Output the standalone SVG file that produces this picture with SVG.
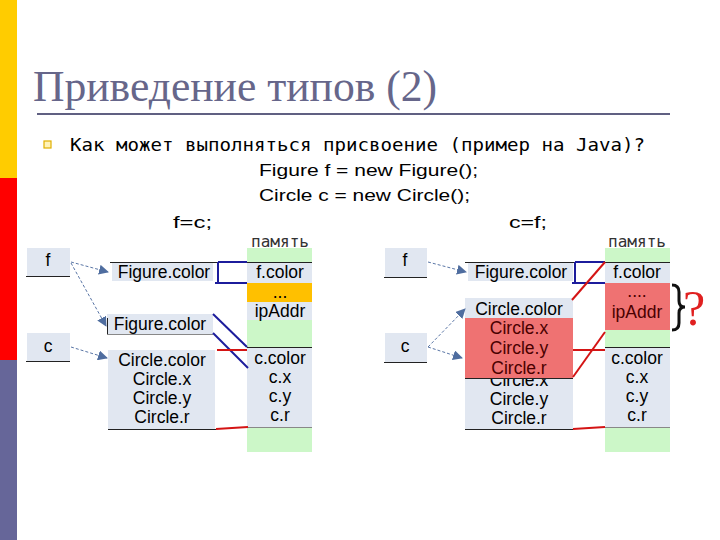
<svg xmlns="http://www.w3.org/2000/svg" width="720" height="540" viewBox="0 0 720 540">
<defs>
<style>
.lbl{font-family:"Liberation Sans",Arial,sans-serif;font-size:17.5px;fill:#000;text-anchor:middle}
.rlbl{font-family:"Liberation Sans",Arial,sans-serif;font-size:17.5px;fill:#4a0000;text-anchor:middle}
.mem{font-family:"DejaVu Sans Mono","Liberation Mono",monospace;font-size:15px;fill:#333;text-anchor:middle}
.cell{fill:#e1e7f1}
.green{fill:#ccf7c8}
.ln{stroke:#222;stroke-width:1}
.gl{stroke:#888;stroke-width:1}
.blue{stroke:#1c1c9c;stroke-width:2;fill:none}
.red{stroke:#d41414;stroke-width:2;fill:none}
.arr{stroke:#5a76a6;stroke-width:1;stroke-dasharray:3 2;fill:none;marker-end:url(#ah)}
.code{font-family:"Liberation Sans",Arial,sans-serif;font-size:17px;fill:#000}
</style>
<marker id="ah" viewBox="0 0 10 10" refX="9" refY="5" markerWidth="10" markerHeight="10" markerUnits="userSpaceOnUse" orient="auto">
<path d="M0,0 L10,5 L0,10 z" fill="#4f6d9f"/>
</marker>
</defs>
<rect width="720" height="540" fill="#fff"/>
<g id="sidebar">
<rect x="0" y="0" width="17" height="178" fill="#ffcc00"/>
<rect x="0" y="178" width="17" height="182" fill="#ff0000"/>
<rect x="0" y="360" width="17" height="180" fill="#666699"/>
</g>
<g id="title">
<text x="33" y="101" font-family="Liberation Serif,Times New Roman,serif" font-size="44" fill="#66668a" textLength="404" lengthAdjust="spacingAndGlyphs">Приведение типов (2)</text>
<line x1="37" y1="114" x2="670" y2="114" stroke="#606082" stroke-width="2"/>
</g>
<g id="question">
<rect x="44" y="141" width="7" height="7" fill="#fff3b8" stroke="#e0b000" stroke-width="1.2"/>
<text x="70" y="151" font-family="DejaVu Sans Mono,Liberation Mono,monospace" font-size="17" fill="#000" textLength="575" lengthAdjust="spacingAndGlyphs">Как может выполняться присвоение (пример на Java)?</text>
</g>
<g id="code">
<text class="code" x="259" y="176" textLength="219" lengthAdjust="spacingAndGlyphs">Figure f = new Figure();</text>
<text class="code" x="259" y="201" textLength="211" lengthAdjust="spacingAndGlyphs">Circle c = new Circle();</text>
<text class="code" x="173" y="228" textLength="39" lengthAdjust="spacingAndGlyphs">f=c;</text>
<text class="code" x="509" y="228" textLength="38" lengthAdjust="spacingAndGlyphs">c=f;</text>
</g>

<!-- LEFT DIAGRAM -->
<g id="L-mem">
<rect class="green" x="247" y="248" width="65" height="204"/>
<text class="mem" x="280" y="247" textLength="58" lengthAdjust="spacingAndGlyphs">память</text>
<rect class="cell" x="247" y="263" width="65" height="20"/>
<text class="lbl" x="280" y="278">f.color</text>
<rect x="247" y="283" width="65" height="19" fill="#ffc000"/>
<text class="lbl" x="280" y="298" font-size="11">...</text>
<rect class="cell" x="247" y="302" width="65" height="18"/>
<text class="lbl" x="280" y="317">ipAddr</text>
<line class="ln" x1="247" y1="347.5" x2="312" y2="347.5"/>
<rect class="cell" x="247" y="348" width="65" height="79"/>
<text class="lbl" x="280" y="364">c.color</text>
<text class="lbl" x="280" y="383">c.x</text>
<text class="lbl" x="280" y="402">c.y</text>
<text class="lbl" x="280" y="421">c.r</text>
<line class="gl" x1="247" y1="427.5" x2="312" y2="427.5"/>
</g>
<g id="L-f">
<rect class="cell" x="27" y="248" width="43" height="28"/>
<line class="ln" x1="26" y1="276.5" x2="70" y2="276.5"/>
<text class="lbl" x="48" y="266">f</text>
</g>
<g id="L-c">
<rect class="cell" x="27" y="333" width="43" height="28"/>
<line class="ln" x1="26" y1="361.5" x2="70" y2="361.5"/>
<text class="lbl" x="48" y="352">c</text>
</g>
<g id="L-fig1">
<rect class="cell" x="112" y="263" width="101" height="18"/>
<line class="ln" x1="110" y1="262.5" x2="312" y2="262.5"/>
<text class="lbl" x="164" y="278">Figure.color</text>
</g>
<g id="L-fig2">
<rect class="cell" x="107" y="314" width="106" height="20"/>
<line class="gl" x1="107" y1="334.5" x2="213" y2="334.5"/>
<line class="ln" x1="107.5" y1="318" x2="107.5" y2="334"/>
<text class="lbl" x="160" y="330">Figure.color</text>
</g>
<g id="L-circle">
<rect class="cell" x="108" y="350" width="107" height="79"/>
<text class="lbl" x="162" y="366">Circle.color</text>
<text class="lbl" x="162" y="385">Circle.x</text>
<text class="lbl" x="162" y="404">Circle.y</text>
<text class="lbl" x="162" y="423">Circle.r</text>
<line class="ln" x1="108" y1="429.5" x2="216" y2="429.5"/>
</g>

<!-- RIGHT DIAGRAM -->
<g id="R-mem">
<rect class="green" x="605" y="248" width="65" height="204"/>
<text class="mem" x="637" y="247" textLength="58" lengthAdjust="spacingAndGlyphs">память</text>
<rect class="cell" x="605" y="263" width="65" height="20"/>
<text class="lbl" x="637" y="278">f.color</text>
<rect x="605" y="283" width="65" height="47" fill="#ef7272"/>
<text class="rlbl" x="637" y="297" font-size="10">....</text>
<text class="rlbl" x="637" y="318">ipAddr</text>
<line class="ln" x1="605" y1="347.5" x2="670" y2="347.5"/>
<rect class="cell" x="605" y="348" width="65" height="79"/>
<text class="lbl" x="637" y="364">c.color</text>
<text class="lbl" x="637" y="383">c.x</text>
<text class="lbl" x="637" y="402">c.y</text>
<text class="lbl" x="637" y="421">c.r</text>
<line class="gl" x1="605" y1="427.5" x2="670" y2="427.5"/>
<path d="M672,285 Q679,285 679,292 L679,301 Q679,307 685,307 Q679,307 679,313 L679,323 Q679,330 672,330" fill="none" stroke="#111" stroke-width="3"/>
<text x="683" y="325" font-family="Liberation Serif,Times New Roman,serif" font-size="50" fill="#e02020">?</text>
</g>
<g id="R-f">
<rect class="cell" x="385" y="248" width="42" height="29"/>
<line class="ln" x1="384" y1="277.5" x2="427" y2="277.5"/>
<text class="lbl" x="405" y="266">f</text>
</g>
<g id="R-c">
<rect class="cell" x="385" y="333" width="42" height="29"/>
<line class="ln" x1="384" y1="362.5" x2="427" y2="362.5"/>
<text class="lbl" x="405" y="352">c</text>
</g>
<g id="R-fig">
<rect class="cell" x="468" y="263" width="105" height="18"/>
<line class="ln" x1="465" y1="262.5" x2="670" y2="262.5"/>
<text class="lbl" x="521" y="278">Figure.color</text>
</g>
<g id="R-circle">
<rect class="cell" x="465" y="298" width="108" height="131"/>
<text class="lbl" x="519" y="315">Circle.color</text>
<text class="lbl" x="519" y="386">Circle.x</text>
<text class="lbl" x="519" y="405">Circle.y</text>
<text class="lbl" x="519" y="424">Circle.r</text>
<rect x="465" y="318" width="108" height="60" fill="#ef7272"/>
<text class="rlbl" x="519" y="334">Circle.x</text>
<text class="rlbl" x="519" y="354">Circle.y</text>
<text class="rlbl" x="519" y="374">Circle.r</text>
<line class="ln" x1="465" y1="378.5" x2="573" y2="378.5"/>
<line class="ln" x1="465" y1="429.5" x2="573" y2="429.5"/>
</g>

<g id="connectors">
<!-- left -->
<path class="blue" d="M218,262 H247 M218,262 V283 M215,283 H247"/>
<line class="blue" x1="213" y1="314" x2="247" y2="347"/>
<line class="blue" x1="213" y1="333" x2="248" y2="368"/>
<line class="red" x1="217" y1="350" x2="247" y2="350"/>
<line class="red" x1="216" y1="429" x2="248" y2="427"/>
<line class="arr" x1="71" y1="262" x2="108" y2="272"/>
<line class="arr" x1="71" y1="263" x2="106" y2="326"/>
<line class="arr" x1="71" y1="347" x2="107" y2="358"/>
<!-- right -->
<path class="blue" d="M575,262 H605 M575,262 V283 M572,283 H605"/>
<line class="red" x1="572" y1="300" x2="605" y2="262"/>
<line class="red" x1="573" y1="377" x2="605" y2="332"/>
<line class="red" x1="573" y1="350" x2="605" y2="350"/>
<line class="red" x1="573" y1="429" x2="605" y2="427"/>
<line class="arr" x1="428" y1="262" x2="466" y2="272"/>
<line class="arr" x1="428" y1="347" x2="465" y2="309"/>
<line class="arr" x1="428" y1="347" x2="462" y2="358"/>
</g>
</svg>
